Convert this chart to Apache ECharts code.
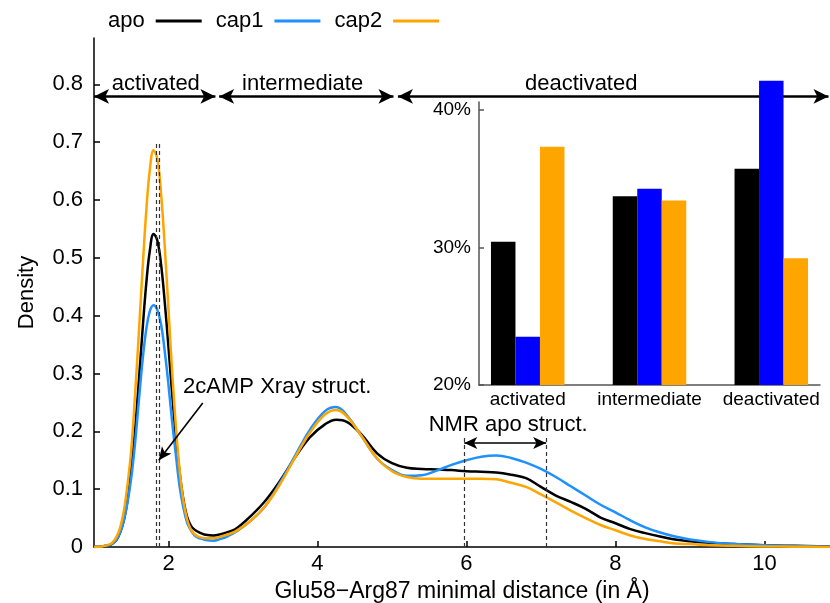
<!DOCTYPE html>
<html>
<head>
<meta charset="utf-8">
<script src="https://cdn.jsdelivr.net/npm/echarts@6/dist/echarts.min.js"></script>
<style>
  html, body { margin: 0; background: #fff; }
  #chart { width: 830px; height: 603px; }
</style>
</head>
<body>
<div id="chart"></div>
<script>
// density curves
const distances = [1.0, 1.1, 1.2, 1.25, 1.3, 1.35, 1.4, 1.45, 1.5, 1.55, 1.6, 1.65, 1.7, 1.75, 1.8, 1.85,
  1.9, 1.95, 2.0, 2.05, 2.1, 2.15, 2.2, 2.25, 2.3, 2.35, 2.4, 2.45, 2.5, 2.6, 2.7, 2.8, 2.9,
  3.1, 3.3, 3.5, 3.7, 3.9, 4.1, 4.25, 4.4, 4.6, 4.8, 5.0, 5.2, 5.4, 5.6, 5.8, 6.0, 6.2, 6.4,
  6.6, 6.8, 7.0, 7.2, 7.4, 7.6, 7.8, 8.0, 8.2, 8.4, 8.6, 8.8, 9.0, 9.3, 9.6, 10.0, 10.4, 10.88];

const apo = [0.000, 0.001, 0.003, 0.006, 0.012, 0.025, 0.046, 0.081, 0.135, 0.201, 0.284, 0.372, 0.453, 0.513, 0.541, 0.530,
  0.489, 0.423, 0.345, 0.263, 0.189, 0.128, 0.082, 0.052, 0.037, 0.030, 0.026, 0.023, 0.021, 0.020, 0.022, 0.026, 0.031,
  0.053, 0.080, 0.115, 0.155, 0.190, 0.212, 0.220, 0.216, 0.193, 0.162, 0.145, 0.137, 0.135, 0.134, 0.133, 0.131, 0.130, 0.129,
  0.125, 0.119, 0.104, 0.089, 0.078, 0.066, 0.051, 0.041, 0.031, 0.024, 0.018, 0.013, 0.010, 0.007, 0.005, 0.003, 0.002, 0.001];

const cap1 = [0.000, 0.001, 0.003, 0.006, 0.013, 0.025, 0.046, 0.077, 0.120, 0.178, 0.250, 0.320, 0.375, 0.408, 0.418, 0.410,
  0.385, 0.338, 0.280, 0.215, 0.158, 0.104, 0.068, 0.042, 0.029, 0.020, 0.016, 0.014, 0.012, 0.011, 0.014, 0.019, 0.026,
  0.045, 0.071, 0.112, 0.158, 0.203, 0.235, 0.242, 0.227, 0.190, 0.153, 0.133, 0.123, 0.124, 0.132, 0.142, 0.150, 0.156, 0.158,
  0.154, 0.146, 0.135, 0.121, 0.105, 0.089, 0.073, 0.060, 0.046, 0.034, 0.025, 0.018, 0.013, 0.008, 0.005, 0.003, 0.0015, 0.0005];

const cap2 = [0.000, 0.001, 0.004, 0.008, 0.017, 0.033, 0.062, 0.108, 0.168, 0.261, 0.366, 0.476, 0.578, 0.653, 0.686, 0.671,
  0.612, 0.519, 0.410, 0.301, 0.207, 0.132, 0.080, 0.048, 0.030, 0.022, 0.018, 0.016, 0.015, 0.015, 0.018, 0.022, 0.027,
  0.045, 0.071, 0.109, 0.155, 0.198, 0.229, 0.237, 0.225, 0.190, 0.153, 0.131, 0.121, 0.118, 0.118, 0.118, 0.118, 0.118, 0.117,
  0.111, 0.104, 0.091, 0.077, 0.063, 0.050, 0.038, 0.029, 0.020, 0.014, 0.010, 0.006, 0.005, 0.003, 0.002, 0.001, 0.0005, 0.0];

const xTicks = [2, 4, 6, 8, 10];
const yTicks = [0, 0.1, 0.2, 0.3, 0.4, 0.5, 0.6, 0.7, 0.8];

// inset: share of time in each state (%)
const phases = ['activated', 'intermediate', 'deactivated'];
const apoShare = [30.4, 33.7, 35.7];
const cap1Share = [23.5, 34.25, 42.1];
const cap2Share = [37.3, 33.4, 29.2];
const shareTicks = [20, 30, 40];

const FONT = '"Liberation Sans", Arial, sans-serif';
const INK = '#000';
const BLUE = '#1e90ff', ORANGE = '#ffa500';

const chart = echarts.init(document.getElementById('chart'));

function curve(vals) {
  return distances.map((d, i) => [d, vals[i]]);
}
function bars(vals) {
  return vals.map((v, i) => [i, v]);
}
function densityLine(name, vals, color) {
  return {
    name: name, type: 'line', xAxisIndex: 0, yAxisIndex: 0,
    data: curve(vals), smooth: 0.4, showSymbol: false, silent: true,
    lineStyle: { color: color, width: 2.5 }, itemStyle: { color: color }, z: 2
  };
}
function shareBar(name, vals, color) {
  return {
    name: name, type: 'bar', xAxisIndex: 1, yAxisIndex: 1,
    data: bars(vals), barWidth: 24.5, barGap: '0%', clip: false, silent: true,
    itemStyle: { color: color }, z: 6
  };
}

const option = {
  animation: false,
  backgroundColor: '#fff',
  textStyle: { fontFamily: FONT, color: INK },
  legend: {
    left: 103, top: 5, align: 'right', icon: 'rect',
    itemWidth: 46, itemHeight: 3, itemGap: 14,
    textStyle: { fontSize: 22, color: INK, fontFamily: FONT, padding: [0, 6, 0, 0] },
    data: ['apo', 'cap1', 'cap2']
  },
  grid: [
    { left: 94, right: 0, top: 38, bottom: 56, outerBoundsMode: 'none' },
    { left: 479, right: 10, top: 102, bottom: 218, outerBoundsMode: 'none' }
  ],
  xAxis: [
    {
      gridIndex: 0, type: 'value', min: 1, max: 10.88,
      name: 'Glu58\u2212Arg87 minimal distance (in \u00c5)', nameLocation: 'middle', nameGap: 24,
      nameTextStyle: { fontSize: 23, color: INK, fontFamily: FONT },
      axisLine: { onZero: false, lineStyle: { color: '#000', width: 1.5 } },
      axisTick: { inside: true, length: 6, customValues: xTicks, lineStyle: { color: '#000', width: 1.5 } },
      axisLabel: { customValues: xTicks, fontSize: 22, color: INK, margin: 6, fontFamily: FONT },
      splitLine: { show: false }
    },
    {
      gridIndex: 1, type: 'value', min: -0.4, max: 2.4,
      axisLine: { onZero: false, lineStyle: { color: '#555', width: 1.5 } },
      axisTick: { show: false },
      axisLabel: { customValues: [0, 1, 2], formatter: v => phases[Math.round(v)], fontSize: 19, color: INK, margin: 5, fontFamily: FONT },
      splitLine: { show: false }
    }
  ],
  yAxis: [
    {
      gridIndex: 0, type: 'value', min: 0, max: 0.88,
      name: 'Density', nameLocation: 'middle', nameGap: 56,
      nameTextStyle: { fontSize: 22, color: INK, fontFamily: FONT },
      axisLine: { show: true, onZero: false, lineStyle: { color: '#000', width: 1.5 } },
      axisTick: { show: true, inside: true, length: 6, customValues: yTicks, lineStyle: { color: '#000', width: 1.5 } },
      axisLabel: { customValues: yTicks, fontSize: 22, color: INK, margin: 11, fontFamily: FONT },
      splitLine: { show: false }
    },
    {
      gridIndex: 1, type: 'value', min: 20, max: 40.55, startValue: 20,
      axisLine: { show: true, onZero: false, lineStyle: { color: '#555', width: 1.5 } },
      axisTick: { show: true, inside: true, length: 5, customValues: shareTicks, lineStyle: { color: '#555', width: 1.5 } },
      axisLabel: { customValues: shareTicks, formatter: '{value}%', fontSize: 19, color: INK, margin: 8, fontFamily: FONT },
      splitLine: { show: false }
    }
  ],
  series: [
    densityLine('apo', apo, '#000'),
    densityLine('cap1', cap1, BLUE),
    densityLine('cap2', cap2, ORANGE),
    // state arrows along the top
    {
      name: 'states', type: 'line', xAxisIndex: 0, yAxisIndex: 0, data: [], silent: true, z: 3,
      markLine: {
        silent: true, animation: false, symbol: ['arrow', 'arrow'], symbolSize: [11, 15],
        label: { show: false },
        lineStyle: { color: '#000', width: 2.5, type: 'solid' },
        data: [
          [{ coord: [1.0, 0.779] }, { coord: [2.63, 0.779] }],
          [{ coord: [2.68, 0.779] }, { coord: [5.02, 0.779] }],
          [{ coord: [5.08, 0.779] }, { coord: [10.86, 0.779] }]
        ]
      }
    },
    // reference structures
    {
      name: 'refs', type: 'line', xAxisIndex: 0, yAxisIndex: 0, data: [], silent: true, z: 3,
      markLine: {
        silent: true, animation: false, symbol: ['none', 'none'],
        label: { show: false },
        lineStyle: { color: '#333', width: 1.2, type: [4, 3] },
        data: [
          [{ coord: [1.84, 0] }, { coord: [1.84, 0.70] }],
          [{ coord: [1.88, 0] }, { coord: [1.88, 0.70] }],
          [{ coord: [5.97, 0] }, { coord: [5.97, 0.19] }],
          [{ coord: [7.07, 0] }, { coord: [7.07, 0.19] }]
        ]
      }
    },
    {
      name: 'pointers', type: 'line', xAxisIndex: 0, yAxisIndex: 0, data: [], silent: true, z: 3,
      markLine: {
        silent: true, animation: false, symbolSize: [9, 13],
        label: { show: false },
        lineStyle: { color: '#000', width: 1.6, type: 'solid' },
        data: [
          [{ coord: [5.97, 0.18], symbol: 'arrow' }, { coord: [7.07, 0.18], symbol: 'arrow' }],
          [{ coord: [2.46, 0.249], symbol: 'none' }, { coord: [1.87, 0.150], symbol: 'arrow' }]
        ]
      }
    },
    {
      name: 'notes', type: 'scatter', xAxisIndex: 0, yAxisIndex: 0, symbolSize: 0, silent: true, z: 4,
      itemStyle: { opacity: 1 },
      label: { show: true, position: 'inside', formatter: '{b}', fontSize: 22, color: INK, opacity: 1, fontFamily: FONT },
      data: [
        { name: 'activated', value: [1.83, 0.80] },
        { name: 'intermediate', value: [3.80, 0.80] },
        { name: 'deactivated', value: [7.54, 0.80] },
        { name: '2cAMP Xray struct.', value: [3.46, 0.277] },
        { name: 'NMR apo struct.', value: [6.56, 0.211] }
      ]
    },
    shareBar('apo share', apoShare, '#000'),
    shareBar('cap1 share', cap1Share, '#0000ff'),
    shareBar('cap2 share', cap2Share, ORANGE)
  ]
};

chart.setOption(option);
</script>
</body>
</html>
